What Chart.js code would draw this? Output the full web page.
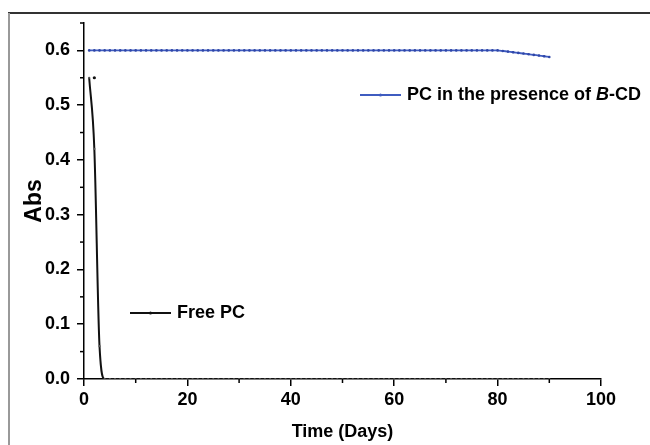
<!DOCTYPE html>
<html>
<head>
<meta charset="utf-8">
<script src="https://cdn.jsdelivr.net/npm/chart.js@4"></script>
<style>
  html, body { margin: 0; padding: 0; background: #fff; }
  #wrap { width: 650px; height: 445px; position: relative; }
</style>
</head>
<body>
<div id="wrap"><canvas id="myChart" width="650" height="445"></canvas></div>
<script>
// 資料：吸光度隨時間變化
const days = [];
for (let d = 1; d <= 90; d++) days.push(d);

// PC + B-CD：前 80 天維持 0.6，之後緩降
const bcdValues = [
    0.6, 0.6, 0.6, 0.6, 0.6, 0.6, 0.6, 0.6, 0.6, 0.6,
    0.6, 0.6, 0.6, 0.6, 0.6, 0.6, 0.6, 0.6, 0.6, 0.6,
    0.6, 0.6, 0.6, 0.6, 0.6, 0.6, 0.6, 0.6, 0.6, 0.6,
    0.6, 0.6, 0.6, 0.6, 0.6, 0.6, 0.6, 0.6, 0.6, 0.6,
    0.6, 0.6, 0.6, 0.6, 0.6, 0.6, 0.6, 0.6, 0.6, 0.6,
    0.6, 0.6, 0.6, 0.6, 0.6, 0.6, 0.6, 0.6, 0.6, 0.6,
    0.6, 0.6, 0.6, 0.6, 0.6, 0.6, 0.6, 0.6, 0.6, 0.6,
    0.6, 0.6, 0.6, 0.6, 0.6, 0.6, 0.6, 0.6, 0.6, 0.6,
    0.599, 0.5978, 0.5966, 0.5954, 0.5942, 0.593, 0.5918, 0.5906, 0.5893, 0.588
];

// Free PC：幾天內急降到 0
const freeDays = [1, 2, 3, 4];
const freeValues = [0.55, 0.42, 0.06, 0];
for (let d = 5; d <= 90; d++) { freeDays.push(d); freeValues.push(0); }
const freeExtraDay = [2];
const freeExtraValue = [0.55];

const xTicks = [0, 20, 40, 60, 80, 100];
const yTicks = [0.0, 0.1, 0.2, 0.3, 0.4, 0.5, 0.6];

const toXY = (xs, ys) => xs.map((x, i) => ({ x: x, y: ys[i] }));

const FONT = 'Liberation Sans, Arial, sans-serif';
const BLUE = '#3f5cc0';

// 外框
const framePlugin = {
    id: 'frame',
    beforeDraw(chart) {
        const c = chart.ctx;
        c.save();
        c.fillStyle = '#fff';
        c.fillRect(0, 0, chart.width, chart.height);
        c.lineWidth = 2;
        c.strokeStyle = '#333';
        c.beginPath(); c.moveTo(8, 13); c.lineTo(650, 13); c.stroke();
        c.strokeStyle = '#999';
        c.beginPath(); c.moveTo(9, 13); c.lineTo(9, 445); c.stroke();
        c.restore();
    }
};

// 次要刻度
const minorTicks = {
    id: 'minorTicks',
    afterDraw(chart) {
        const c = chart.ctx;
        const xs = chart.scales.x, ys = chart.scales.y;
        c.save();
        c.strokeStyle = '#000';
        c.lineWidth = 1.5;
        for (let v = 10; v < 100; v += 20) {
            const px = xs.getPixelForValue(v);
            c.beginPath(); c.moveTo(px, ys.bottom); c.lineTo(px, ys.bottom + 4); c.stroke();
        }
        [0.05, 0.15, 0.25, 0.35, 0.45, 0.55, 0.65].forEach(v => {
            const py = ys.getPixelForValue(v);
            c.beginPath(); c.moveTo(xs.left, py); c.lineTo(xs.left - 4, py); c.stroke();
        });
        c.restore();
    }
};

// 圖例（放在圖內）
const inlineLegend = {
    id: 'inlineLegend',
    afterDraw(chart, args, opts) {
        const c = chart.ctx;
        c.save();
        opts.items.forEach(it => {
            c.strokeStyle = it.color;
            c.lineWidth = 1.8;
            c.beginPath(); c.moveTo(it.x, it.y); c.lineTo(it.x + 41, it.y); c.stroke();
            c.fillStyle = it.color;
            c.beginPath(); c.arc(it.x + 20.5, it.y, 1.5, 0, Math.PI * 2); c.fill();
            c.fillStyle = '#000';
            c.textBaseline = 'middle';
            let tx = it.x + 47;
            it.parts.forEach(p => {
                c.font = (p.italic ? 'italic ' : '') + 'bold 18px ' + FONT;
                c.fillText(p.text, tx, it.y);
                tx += c.measureText(p.text).width;
            });
        });
        c.restore();
    }
};

const ctx = document.getElementById('myChart').getContext('2d');
const myChart = new Chart(ctx, {
    type: 'line',
    data: {
        datasets: [
            {
                label: 'PC in the presence of B-CD',
                data: toXY(days, bcdValues),
                borderColor: BLUE,
                backgroundColor: '#2f46a8',
                borderWidth: 1.8,
                pointRadius: 1.3,
                pointBorderWidth: 0,
                tension: 0.3
            },
            {
                label: 'Free PC',
                data: toXY(freeDays, freeValues),
                borderColor: '#111',
                backgroundColor: '#555',
                borderWidth: 2,
                pointRadius: 1.1,
                pointBorderWidth: 0,
                cubicInterpolationMode: 'monotone'
            },
            {
                label: 'Free PC extra',
                data: toXY(freeExtraDay, freeExtraValue),
                showLine: false,
                backgroundColor: '#111',
                pointRadius: 1.6,
                pointBorderWidth: 0
            }
        ]
    },
    options: {
        responsive: false,
        animation: false,
        layout: { padding: { left: 0, right: 49, top: 23, bottom: 0 } },
        plugins: {
            legend: { display: false },
            tooltip: { enabled: false },
            inlineLegend: {
                items: [
                    { x: 360, y: 95, color: BLUE, parts: [
                        { text: 'PC in the presence of ' }, { text: 'B', italic: true }, { text: '-CD' }] },
                    { x: 130, y: 313, color: '#111', parts: [{ text: 'Free PC' }] }
                ]
            }
        },
        scales: {
            x: {
                type: 'linear',
                min: 0,
                max: 100,
                afterBuildTicks: s => { s.ticks = xTicks.map(v => ({ value: v })); },
                afterFit: s => { s.height = 66; },
                grid: { drawOnChartArea: false, tickLength: 7, color: '#000', lineWidth: 1.5 },
                border: { color: '#000', width: 1.5 },
                ticks: { color: '#000', padding: 3, maxRotation: 0, font: { family: FONT, size: 18, weight: 'bold' } },
                title: { display: true, text: 'Time (Days)', color: '#000', padding: { top: 0, bottom: 2 },
                    font: { family: FONT, size: 18, weight: 'bold' } }
            },
            y: {
                min: 0,
                max: 0.65,
                afterBuildTicks: s => { s.ticks = yTicks.map(v => ({ value: v })); },
                afterFit: s => { s.width = 84; },
                grid: { drawOnChartArea: false, tickLength: 7, color: '#000', lineWidth: 1.5 },
                border: { color: '#000', width: 1.5 },
                ticks: { color: '#000', padding: 7, callback: v => v.toFixed(1),
                    font: { family: FONT, size: 18, weight: 'bold' } },
                title: { display: true, text: 'Abs', color: '#000', padding: { top: 21, bottom: 0 },
                    font: { family: FONT, size: 23, weight: 'bold' } }
            }
        }
    },
    plugins: [framePlugin, minorTicks, inlineLegend]
});
</script>
</body>
</html>
